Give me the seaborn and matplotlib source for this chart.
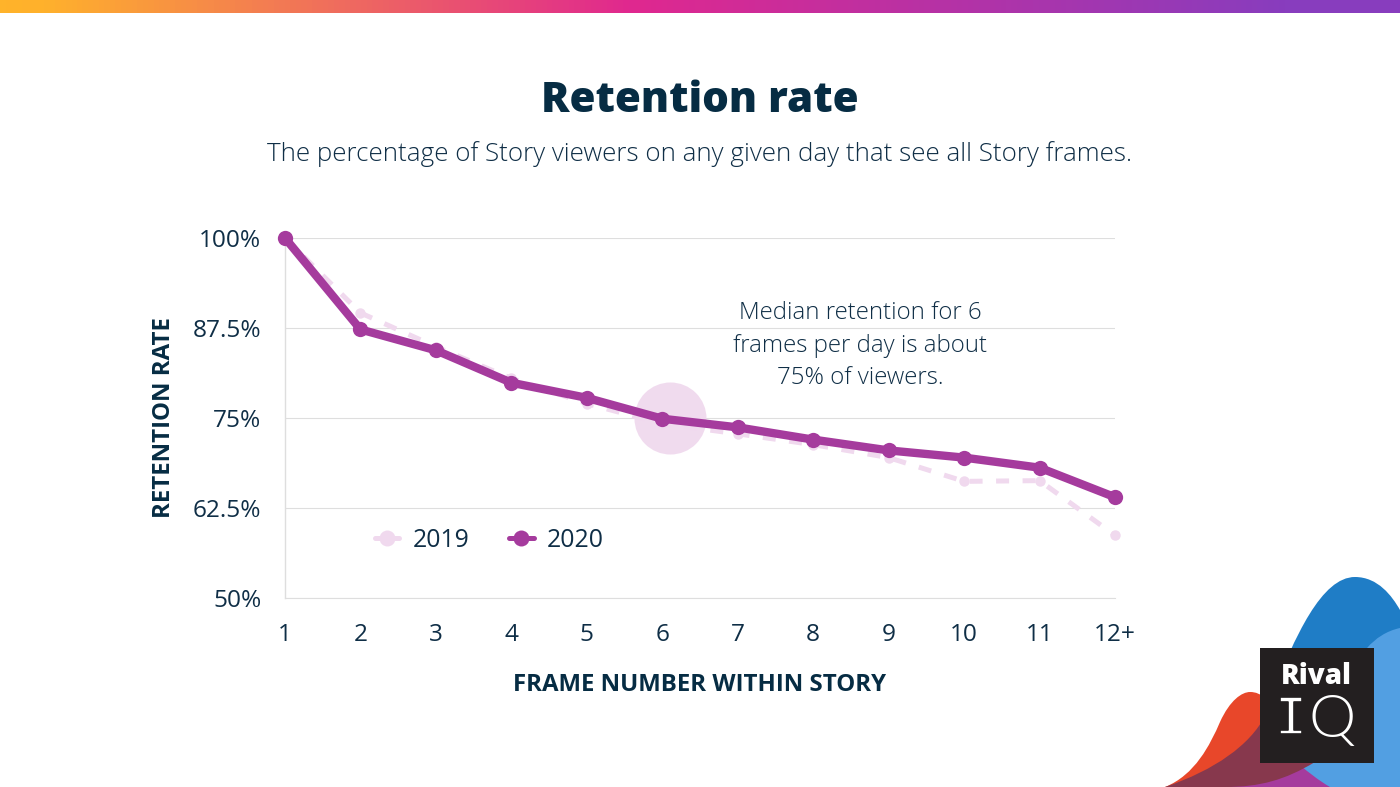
import numpy as np
import pandas as pd
import matplotlib
matplotlib.use('Agg')
import matplotlib.pyplot as plt
import matplotlib.patheffects as pe
import seaborn as sns
from matplotlib.colors import LinearSegmentedColormap
from matplotlib.lines import Line2D
from matplotlib.patches import PathPatch, Rectangle
from matplotlib.path import Path

# data
frames = ['1', '2', '3', '4', '5', '6', '7', '8', '9', '10', '11', '12+']
retention_2019 = [100, 89.6, 84.9, 80.5, 77.0, 74.2, 72.8, 71.3, 69.5, 66.2, 66.3, 58.7]
retention_2020 = [100, 87.3, 84.4, 79.9, 77.8, 74.9, 73.7, 72.0, 70.5, 69.5, 68.1, 64.0]
y_ticks = [50, 62.5, 75, 87.5, 100]
y_labels = ['50%', '62.5%', '75%', '87.5%', '100%']
highlight_x = [5.1]
highlight_y = [75]

INK = '#0f2e46'
C_2019 = '#f0d9ee'
C_2020 = '#a53b9d'
GRID = '#dedede'
LOGO = '#231f20'
W, H = 1400, 787

sns.set_theme(style='white')
plt.rcParams['font.family'] = ['Open Sans', 'DejaVu Sans']
plt.rcParams['text.color'] = INK

fig = plt.figure(figsize=(14, 7.87), dpi=100, facecolor='white')

# background layer in pixel coordinates (top bar, blobs, logo)
bg = fig.add_axes([0, 0, 1, 1], zorder=0)
bg.set_xlim(0, W)
bg.set_ylim(H, 0)
bg.axis('off')

bar_cmap = LinearSegmentedColormap.from_list(
    'bar', [(0, '#ffb32a'), (0.03, '#ffb12c'), (0.45, '#e0288f'), (0.92, '#883dbe'), (1, '#883dbe')])
bg.imshow(np.linspace(0, 1, 1400)[None, :], cmap=bar_cmap, aspect='auto', extent=(0, W, 13, 0), zorder=1)
bg.set_xlim(0, W)
bg.set_ylim(H, 0)


def blob(pts, color, z):
    codes = [Path.MOVETO] + [Path.CURVE4] * (len(pts) - 1)
    bg.add_patch(PathPatch(Path(pts, codes), facecolor=color, edgecolor='none', zorder=z))


# dark blue hump
blob([(1270, 700), (1295, 635), (1322, 577), (1355, 577),
      (1378, 577), (1392, 596), (1400, 610),
      (1400, 700), (1400, 787), (1400, 787),
      (1340, 787), (1300, 760), (1270, 700)], '#1f7dc6', 2)
# purple base
blob([(1225, 787), (1270, 770), (1300, 750), (1320, 740),
      (1335, 760), (1345, 775), (1350, 787),
      (1310, 787), (1260, 787), (1225, 787)], '#a53b9d', 3)
# light blue hump
blob([(1300, 765), (1340, 720), (1345, 640), (1400, 628),
      (1400, 680), (1400, 740), (1400, 787),
      (1380, 787), (1350, 787), (1330, 787),
      (1318, 780), (1308, 772), (1300, 765)], '#529fe2', 4)
# red hump
blob([(1165, 787), (1195, 775), (1210, 745), (1220, 722),
      (1230, 700), (1242, 692), (1250, 692),
      (1262, 692), (1268, 700), (1280, 720),
      (1280, 787), (1280, 787), (1165, 787)], '#e8472a', 5)
# overlap of red and purple
blob([(1165, 787), (1215, 770), (1250, 745), (1265, 716),
      (1285, 735), (1300, 752), (1315, 762),
      (1285, 780), (1260, 787), (1225, 787),
      (1200, 787), (1180, 787), (1165, 787)], '#87384d', 6)

bg.add_patch(Rectangle((1260, 648), 114, 115, facecolor=LOGO, edgecolor='none', zorder=7))
bg.text(1316.5, 677, 'Rival', color='white', fontsize=20, fontweight='heavy', family='Open Sans',
        ha='center', va='center', zorder=8)
i_txt = bg.text(1291, 720, 'I', color='white', fontsize=40, family='Liberation Mono',
                ha='center', va='center', zorder=8)
i_txt.set_path_effects([pe.Stroke(linewidth=1.2, foreground=LOGO)])
bg.text(1332, 720, 'Q', color='white', fontsize=43, fontweight=300, family='Lato',
        ha='center', va='center', zorder=8)

# titles
fig.text(700 / W, 1 - 100.5 / H, 'Retention rate', ha='center', va='center', fontsize=30.3,
         fontweight='heavy', color='#062c43')
fig.text(700 / W, 1 - 154 / H, 'The percentage of Story viewers on any given day that see all Story frames.',
         ha='center', va='center', fontsize=18.75, color=INK, fontweight='light')

# chart layer
ax = fig.add_axes([285 / W, 1 - 598 / H, 830 / W, 360 / H], zorder=2)
ax.patch.set_alpha(0)

df = pd.DataFrame({'pos': np.arange(len(frames)), '2019': retention_2019, '2020': retention_2020})

ax.scatter(highlight_x, highlight_y, s=2690, color=C_2019, alpha=0.95, linewidths=0, zorder=1)

sns.lineplot(data=df, x='pos', y='2019', ax=ax, color=C_2019, linewidth=3.6, marker='o', markersize=7.5,
             markeredgewidth=0, linestyle=(0, (2.6, 2.7)), clip_on=False, zorder=2)
sns.lineplot(data=df, x='pos', y='2020', ax=ax, color=C_2020, linewidth=6, marker='o', markersize=11,
             markeredgewidth=0, clip_on=False, zorder=3)

ax.set_xlim(0, len(frames) - 1)
ax.set_ylim(50, 100)
ax.set_xticks(np.arange(len(frames)))
ax.set_xticklabels(frames)
ax.set_yticks(y_ticks)
ax.set_yticklabels(y_labels)
ax.yaxis.grid(True, color=GRID, linewidth=0.8)
ax.set_axisbelow(True)
ax.tick_params(axis='x', length=0, pad=18, labelsize=17.6, colors=INK)
ax.tick_params(axis='y', length=3, width=0.8, color=GRID, pad=14, labelsize=17.6, labelcolor=INK)
sns.despine(ax=ax, top=True, right=True)
ax.spines['left'].set_color(GRID)
ax.spines['bottom'].set_color(GRID)
ax.spines['left'].set_linewidth(1)
ax.spines['bottom'].set_linewidth(0.8)

ax.set_xlabel('')
ax.set_ylabel('')
fig.text(700 / W, 1 - 685 / H, 'FRAME NUMBER WITHIN STORY', ha='center', va='center', fontsize=17.3,
         fontweight='bold', color='#062c43')
fig.text(164 / W, 1 - 418 / H, 'RETENTION RATE', ha='center', va='center', rotation=90, fontsize=17.3,
         fontweight='bold', color='#062c43')

for line_y, txt in zip([313, 346, 378],
                       ['Median retention for 6', 'frames per day is about', '75% of viewers.']):
    fig.text(860 / W, 1 - line_y / H, txt, ha='center', va='center', fontsize=17.3, fontweight='light', color=INK)

handles = [
    Line2D([], [], color=C_2019, lw=3.6, marker='o', markersize=11.5, markeredgewidth=0, label='2019'),
    Line2D([], [], color=C_2020, lw=3.6, marker='o', markersize=11.5, markeredgewidth=0, label='2020'),
]
ax.legend(handles=handles, ncol=2, frameon=False, fontsize=17.8, handlelength=1.0, handletextpad=0.52,
          columnspacing=1.62, loc='center left', bbox_to_anchor=((352.5 - 285) / 830, (598 - 540) / 360),
          labelcolor=INK)

fig.savefig('out.png', dpi=100, facecolor='white')
